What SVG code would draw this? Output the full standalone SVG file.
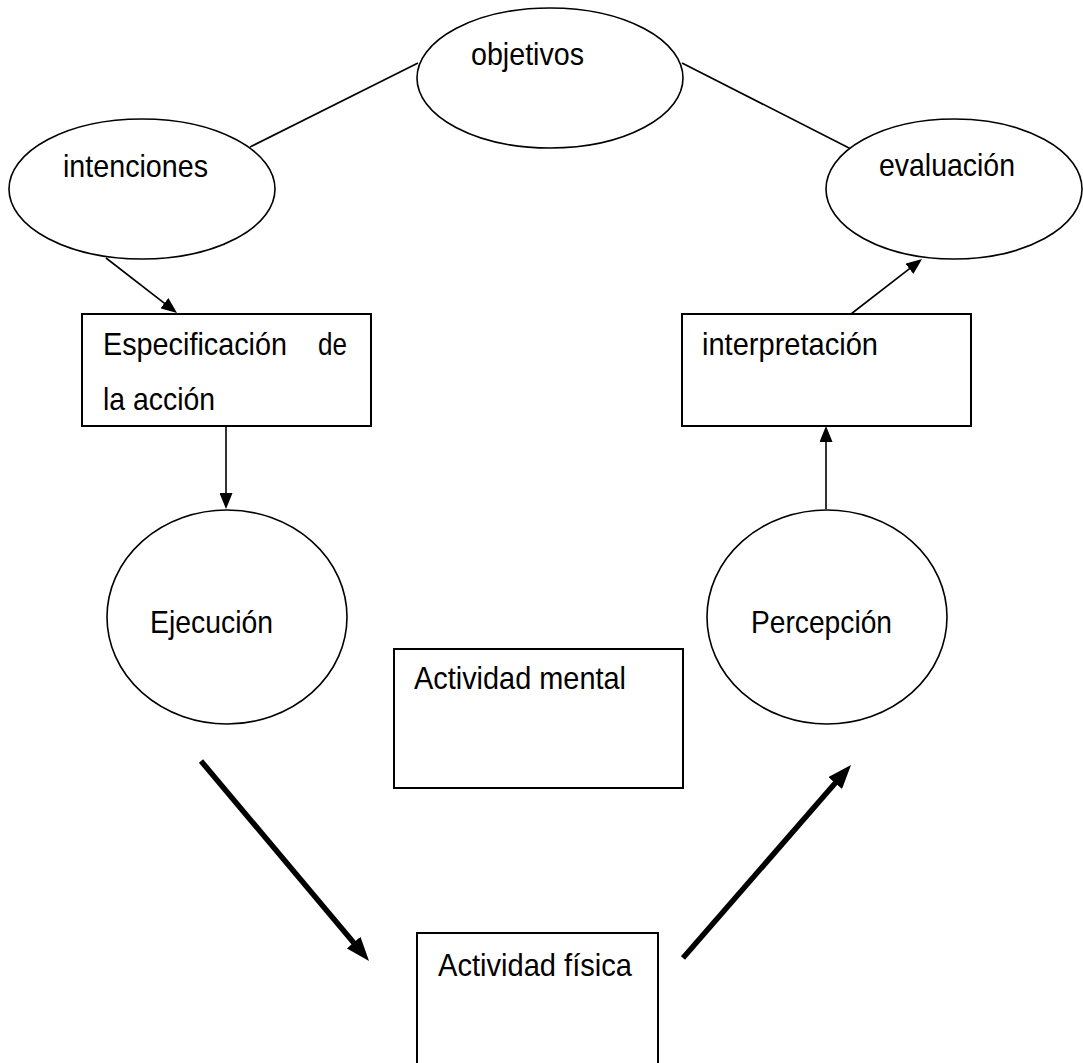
<svg xmlns="http://www.w3.org/2000/svg" width="1083" height="1063" viewBox="0 0 1083 1063">
<style>
.shape{fill:#fff;stroke:#000;stroke-width:1.6}
.box{fill:#fff;stroke:#000;stroke-width:2}
.lbl{font-family:"Liberation Sans",Arial,sans-serif;font-size:31.5px;fill:#000}
.thin{stroke:#000;stroke-width:1.6;fill:none}
.thick{stroke:#000;stroke-width:5.5;fill:none}
</style>
<defs>
<marker id="ah" markerUnits="userSpaceOnUse" markerWidth="16" markerHeight="13" refX="10" refY="6.5" orient="auto">
<path d="M0,0 L16,6.5 L0,13 z" fill="#000"/>
</marker>
<marker id="ahBig" markerUnits="userSpaceOnUse" markerWidth="24" markerHeight="18" refX="12" refY="9" orient="auto">
<path d="M0,0 L24,9 L0,18 z" fill="#000"/>
</marker>
</defs>
<rect width="1083" height="1063" fill="#fff"/>
<g id="connectors">
<line class="thin" x1="250" y1="147" x2="418" y2="63"/>
<line class="thin" x1="682" y1="63" x2="851" y2="149"/>
<line class="thin" x1="106" y1="258" x2="172.3" y2="309.3" marker-end="url(#ah)"/>
<line class="thin" x1="226" y1="426" x2="226" y2="503" marker-end="url(#ah)"/>
<line class="thin" x1="826" y1="509" x2="826" y2="432" marker-end="url(#ah)"/>
<line class="thin" x1="851" y1="314" x2="917.3" y2="262.7" marker-end="url(#ah)"/>
<line class="thick" x1="201" y1="761" x2="361.3" y2="951.8" marker-end="url(#ahBig)"/>
<line class="thick" x1="683" y1="958" x2="843.1" y2="774" marker-end="url(#ahBig)"/>
</g>
<g id="objetivos">
<ellipse class="shape" cx="550" cy="78" rx="133" ry="70"/>
<text class="lbl" x="471" y="65" textLength="113" lengthAdjust="spacingAndGlyphs">objetivos</text>
</g>
<g id="intenciones">
<ellipse class="shape" cx="142" cy="189" rx="133" ry="70"/>
<text class="lbl" x="63" y="177" textLength="145" lengthAdjust="spacingAndGlyphs">intenciones</text>
</g>
<g id="evaluacion">
<ellipse class="shape" cx="954" cy="189" rx="128" ry="70"/>
<text class="lbl" x="879" y="176" textLength="136" lengthAdjust="spacingAndGlyphs">evaluación</text>
</g>
<g id="especificacion">
<rect class="box" x="82" y="314" width="289" height="112"/>
<text class="lbl" x="103" y="355" textLength="184" lengthAdjust="spacingAndGlyphs">Especificación</text>
<text class="lbl" x="318" y="355" textLength="29" lengthAdjust="spacingAndGlyphs">de</text>
<text class="lbl" x="103" y="410" textLength="112" lengthAdjust="spacingAndGlyphs">la acción</text>
</g>
<g id="interpretacion">
<rect class="box" x="682" y="314" width="289" height="112"/>
<text class="lbl" x="702" y="355" textLength="176" lengthAdjust="spacingAndGlyphs">interpretación</text>
</g>
<g id="ejecucion">
<ellipse class="shape" cx="227" cy="617" rx="120" ry="107"/>
<text class="lbl" x="150" y="633" textLength="123" lengthAdjust="spacingAndGlyphs">Ejecución</text>
</g>
<g id="percepcion">
<ellipse class="shape" cx="827" cy="617" rx="120" ry="107"/>
<text class="lbl" x="751" y="633" textLength="141" lengthAdjust="spacingAndGlyphs">Percepción</text>
</g>
<g id="actividad-mental">
<rect class="box" x="394" y="649" width="289" height="139"/>
<text class="lbl" x="414" y="689" textLength="212" lengthAdjust="spacingAndGlyphs">Actividad mental</text>
</g>
<g id="actividad-fisica">
<rect class="box" x="417" y="933" width="241" height="140"/>
<text class="lbl" x="438" y="976" textLength="194" lengthAdjust="spacingAndGlyphs">Actividad física</text>
</g>
</svg>
